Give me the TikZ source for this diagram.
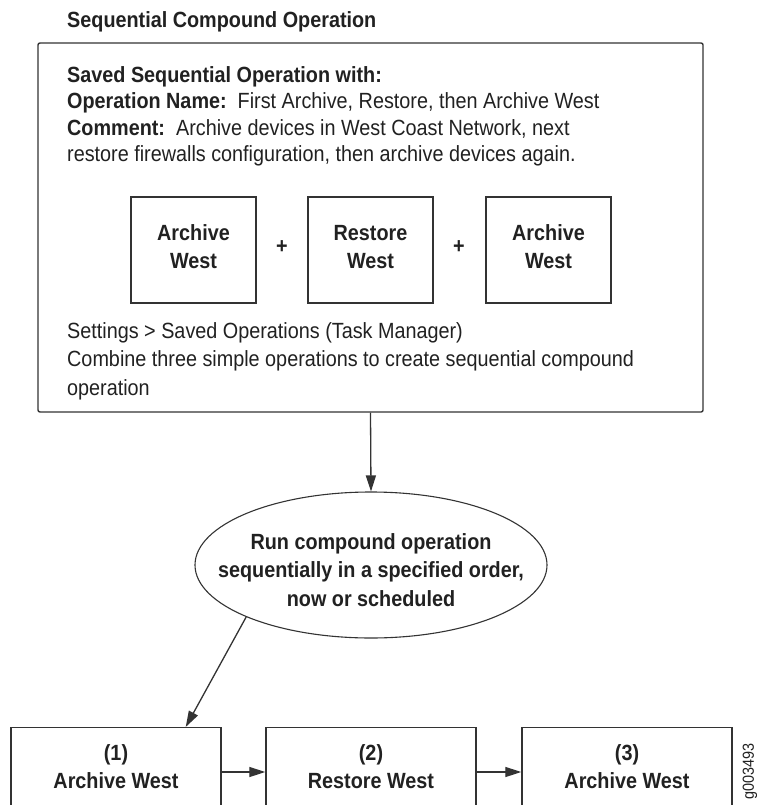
\documentclass[tikz,border=0pt]{standalone}
\usepackage{fontspec}
\setmainfont{Liberation Sans}[FakeStretch=0.9]
\usetikzlibrary{arrows.meta,positioning,shapes.geometric,calc}
\definecolor{lGray}{gray}{0.2}
\definecolor{tGray}{gray}{0.13}
\newcommand{\fsize}{\fontsize{22}{26.5}\selectfont}
\tikzset{
    txt/.style={inner sep=0pt, align=left, text=tGray, font=\fsize},
    savedbox/.style={draw=lGray, line width=1.4pt, rounded corners=2pt, minimum width=665pt, minimum height=369pt},
    opbox/.style={draw=lGray, line width=1.4pt, minimum width=125pt, minimum height=106pt, text depth=6pt, align=center, font=\fontsize{22}{28}\selectfont\bfseries},
    plus/.style={inner sep=0pt, font=\fsize\bfseries},
    runell/.style={ellipse, draw=lGray, line width=1.1pt, minimum width=352pt, minimum height=146pt, inner sep=0pt},
    runtxt/.style={inner sep=0pt, align=center, font=\fontsize{22}{28.5}\selectfont\bfseries},
    stepbox/.style={draw=lGray, line width=1.4pt, minimum width=210pt, inner ysep=17pt, align=center, font=\fontsize{22}{28}\selectfont\bfseries},
    arr/.style={-{Triangle[length=16pt,width=10pt]}, line width=1.3pt, draw=lGray}
}

\begin{document}
\begin{tikzpicture}[x=1pt,y=-1pt,text=tGray]
\useasboundingbox (0,0) rectangle (756,805);
\clip (0,0) rectangle (756,805);
% saved operation
\node[txt, anchor=base west, font=\fsize\bfseries] (title) at (67,28) {Sequential Compound Operation};
\node[savedbox] (saved) at (370.5,227.5) {};
\node[txt, anchor=base west] (info) at (67,162) {\textbf{Saved Sequential Operation with:}\\
\textbf{Operation Name:}\ \ First Archive, Restore, then Archive West\\
\textbf{Comment:}\ \ Archive devices in West Coast Network, next\\
restore firewalls configuration, then archive devices again.};
\node[opbox] (arc1) at (193.5,250) {Archive\\West};
\node[opbox] (rest) at (370.5,250) {Restore\\West};
\node[opbox] (arc2) at (548.5,250) {Archive\\West};
\node[plus] (plus1) at (282,247) {+};
\node[plus] (plus2) at (459,247) {+};
\node[txt, anchor=base west, font=\fontsize{22}{28.5}\selectfont] (hint) at (67,395) {Settings > Saved Operations (Task Manager)\\
Combine three simple operations to create sequential compound\\
operation};
% run
\node[runell] (run) at (371,565) {};
\node[runtxt] (runlbl) at ([yshift=-5pt]run.center) {Run compound operation\\sequentially in a specified order,\\now or scheduled};
\node[stepbox, anchor=north] (s1) at (116,727) {(1)\\Archive West};
\node[stepbox, anchor=north] (s2) at (371,727) {(2)\\Restore West};
\node[stepbox, anchor=north] (s3) at (627,727) {(3)\\Archive West};
\node[rotate=90, inner sep=0pt, font=\fontsize{16}{18}\selectfont] (fig) at (750,771) {g003493};
\draw[arr] (saved.south) -- (run.north);
\draw[arr] (run.south west) -- ([xshift=-36pt]s1.north east);
\draw[arr] (s1.east |- 0,772) -- (s2.west |- 0,772);
\draw[arr] (s2.east |- 0,772) -- (s3.west |- 0,772);
\end{tikzpicture}
\end{document}
